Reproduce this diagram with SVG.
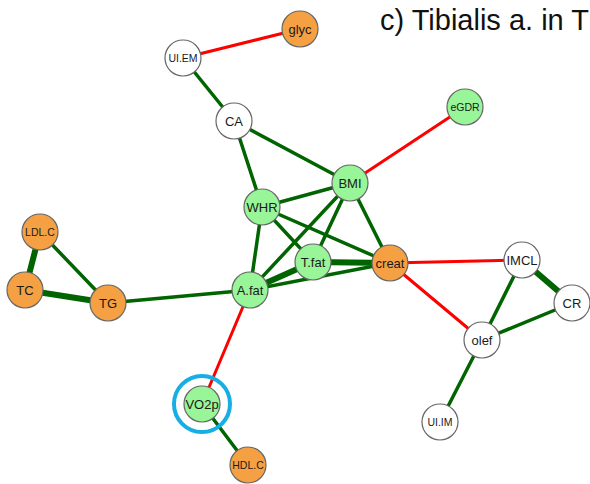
<svg xmlns="http://www.w3.org/2000/svg" width="590" height="484" viewBox="0 0 590 484">
  <style>
    .pos { stroke: #006400; stroke-width: 3.5; stroke-linecap: round; }
    .pos.thick { stroke-width: 6; }
    .neg { stroke: #ff0000; stroke-width: 3; stroke-linecap: round; }
    .node circle { stroke: #666666; stroke-width: 1.2; }
    .green circle { fill: #98f598; }
    .orange circle { fill: #f5a043; }
    .white circle { fill: #ffffff; }
    .node text { font-family: "Liberation Sans", Arial, sans-serif; font-size: 13px; fill: #1a1a1a; text-anchor: middle; dominant-baseline: central; }
    .node text.small { font-size: 10.5px; }
    .title { font-family: "Liberation Sans", Arial, sans-serif; font-size: 29px; fill: #111111; }
  </style>
  <rect width="590" height="484" fill="#ffffff"/>
  <text class="title" x="380" y="30">c) Tibialis a. in T</text>

  <g id="connectors">
    <line class="neg" x1="183" y1="58" x2="300" y2="29"/>
    <line class="neg" x1="350" y1="183" x2="465" y2="107"/>
    <line class="neg" x1="390" y1="263" x2="522" y2="260"/>
    <line class="neg" x1="390" y1="263" x2="482" y2="340"/>
    <line class="neg" x1="250" y1="290" x2="202" y2="404"/>
    <line class="pos" x1="183" y1="58" x2="234" y2="121"/>
    <line class="pos" x1="234" y1="121" x2="262" y2="207"/>
    <line class="pos" x1="234" y1="121" x2="350" y2="183"/>
    <line class="pos" x1="262" y1="207" x2="350" y2="183"/>
    <line class="pos" x1="262" y1="207" x2="250" y2="290"/>
    <line class="pos" x1="262" y1="207" x2="313" y2="262"/>
    <line class="pos" x1="262" y1="207" x2="390" y2="263"/>
    <line class="pos" x1="350" y1="183" x2="313" y2="262"/>
    <line class="pos" x1="350" y1="183" x2="250" y2="290"/>
    <line class="pos" x1="350" y1="183" x2="390" y2="263"/>
    <line class="pos thick" x1="313" y1="262" x2="390" y2="263"/>
    <line class="pos thick" x1="313" y1="262" x2="250" y2="290"/>
    <line class="pos" x1="250" y1="290" x2="390" y2="263"/>
    <line class="pos thick" x1="40" y1="232" x2="25" y2="290"/>
    <line class="pos" x1="40" y1="232" x2="108" y2="303"/>
    <line class="pos thick" x1="25" y1="290" x2="108" y2="303"/>
    <line class="pos" x1="108" y1="303" x2="250" y2="290"/>
    <line class="pos" x1="522" y1="260" x2="482" y2="340"/>
    <line class="pos thick" x1="522" y1="260" x2="572" y2="303"/>
    <line class="pos" x1="572" y1="303" x2="482" y2="340"/>
    <line class="pos" x1="482" y1="340" x2="440" y2="422"/>
    <line class="pos" x1="202" y1="404" x2="248" y2="465"/>
  </g>

  <g id="glyc" class="node orange"><circle cx="300" cy="29" r="18"/><text x="300" y="29">glyc</text></g>
  <g id="UI.EM" class="node white"><circle cx="183" cy="58" r="18"/><text class="small" x="183" y="58">UI.EM</text></g>
  <g id="CA" class="node white"><circle cx="234" cy="121" r="18"/><text x="234" y="121">CA</text></g>
  <g id="eGDR" class="node green"><circle cx="465" cy="107" r="18"/><text class="small" x="465" y="107">eGDR</text></g>
  <g id="BMI" class="node green"><circle cx="350" cy="183" r="18"/><text x="350" y="183">BMI</text></g>
  <g id="WHR" class="node green"><circle cx="262" cy="207" r="18"/><text x="262" y="207">WHR</text></g>
  <g id="T.fat" class="node green"><circle cx="313" cy="262" r="18"/><text x="313" y="262">T.fat</text></g>
  <g id="creat" class="node orange"><circle cx="390" cy="263" r="18"/><text x="390" y="263">creat</text></g>
  <g id="A.fat" class="node green"><circle cx="250" cy="290" r="18"/><text x="250" y="290">A.fat</text></g>
  <g id="LDL.C" class="node orange"><circle cx="40" cy="232" r="18"/><text class="small" x="40" y="232">LDL.C</text></g>
  <g id="TC" class="node orange"><circle cx="25" cy="290" r="18"/><text x="25" y="290">TC</text></g>
  <g id="TG" class="node orange"><circle cx="108" cy="303" r="18"/><text x="108" y="303">TG</text></g>
  <g id="IMCL" class="node white"><circle cx="522" cy="260" r="18"/><text x="522" y="260">IMCL</text></g>
  <g id="CR" class="node white"><circle cx="572" cy="303" r="18"/><text x="572" y="303">CR</text></g>
  <g id="olef" class="node white"><circle cx="482" cy="340" r="18"/><text x="482" y="340">olef</text></g>
  <g id="UI.IM" class="node white"><circle cx="440" cy="422" r="18"/><text class="small" x="440" y="422">UI.IM</text></g>
  <g id="VO2p" class="node green">
    <circle cx="202" cy="404" r="28" style="fill:none;stroke:#17aee6;stroke-width:4"/>
    <circle cx="202" cy="404" r="18"/><text x="202" y="404">VO2p</text>
  </g>
  <g id="HDL.C" class="node orange"><circle cx="248" cy="465" r="18"/><text class="small" x="248" y="465">HDL.C</text></g>
</svg>
